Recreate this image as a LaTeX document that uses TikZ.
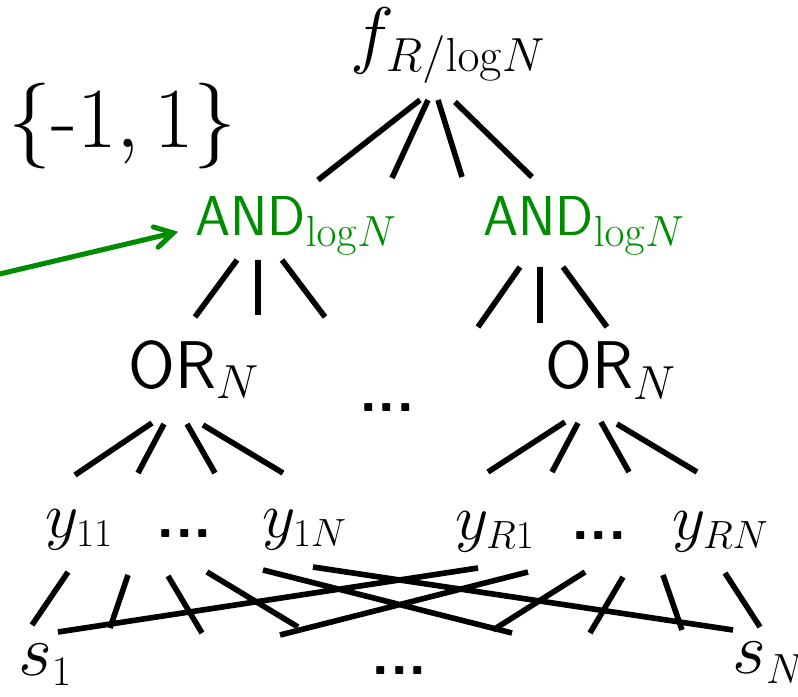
\RequirePackage{fix-cm}
\documentclass[tikz,border=0pt]{standalone}
\usepackage{xcolor}
\definecolor{andgreen}{RGB}{0,140,0}
\DeclareMathSizes{53}{53}{34}{24}
\DeclareMathSizes{40}{40}{31}{22}
\DeclareMathSizes{48}{48}{34}{24}
\DeclareMathSizes{46}{46}{28}{20}
\DeclareMathSizes{52}{52}{30}{22}
\DeclareMathSizes{61}{61}{43}{31}
\usepackage{tikz}
\usetikzlibrary{arrows.meta}

\begin{document}
\begin{tikzpicture}[
    lbl/.style={inner sep=0pt, anchor=base west},
    gate/.style={lbl, font=\fontsize{48}{56}\selectfont\sffamily},
    var/.style={lbl, font=\fontsize{46}{54}\selectfont},
    dots/.style={inner sep=0pt, anchor=base, font=\fontsize{43}{50}\selectfont\sffamily\bfseries},
    stub/.style={line width=4pt}]
  \useasboundingbox (0,0) rectangle (19.95,17.4);
  % Root and the value set
  \node[lbl, font=\fontsize{53}{60}\selectfont] (fR) at (8.75,15.9) {$f_{R/\mathrm{log}N}$};
  \node[lbl, font=\fontsize{61}{70}\selectfont] (pm) at (0.2,13.7) {$\{\mbox{-}1,1\}$};
  \draw[stub] (10.5,14.9) -- (7.95,12.9) (10.7,14.9) -- (9.8,12.95)
              (10.95,14.9) -- (11.55,12.975) (11.375,14.85) -- (13.3,12.975);
  % AND layer (green)
  \node[lbl, andgreen, font=\fontsize{40}{48}\selectfont] (andL) at (4.875,11.5) {$\textsf{AND}_{\mathrm{log}N}$};
  \node[lbl, andgreen, font=\fontsize{40}{48}\selectfont] (andR) at (12.075,11.5) {$\textsf{AND}_{\mathrm{log}N}$};
  \coordinate (src) at (-0.05,10.54);
  \draw[andgreen, line width=3.6pt, line cap=round,
        -{Straight Barb[length=4.5mm, width=5.2mm, line cap=round]}] (src) -- ([shift={(-0.42,-0.14)}]andL.west);
  \draw[stub] (5.925,10.9) -- (4.875,9.475) (6.45,10.9) -- (6.45,9.525) (7.05,10.9) -- (8.125,9.475);
  \draw[stub] (13.0,10.725) -- (11.95,9.225) (13.5,10.725) -- (13.5,9.325) (14.075,10.725) -- (15.175,9.225);
  % OR layer
  \node[gate] (orL) at (3.2,7.7) {$\textsf{OR}_N$};
  \node[gate] (orR) at (13.625,7.675) {$\textsf{OR}_N$};
  \node[dots] (dotsOR) at (9.675,7.1) {...};
  \draw[stub] (3.8,6.825) -- (1.875,5.525) (4.1,6.8) -- (3.45,5.575)
              (4.675,6.8) -- (5.375,5.575) (5.075,6.775) -- (7.075,5.575);
  \draw[stub] (14.125,6.85) -- (12.2,5.6) (14.45,6.825) -- (13.8,5.6)
              (15.025,6.85) -- (15.725,5.6) (15.425,6.8) -- (17.425,5.6);
  % y variables
  \node[var] (y11) at (1.125,3.975) {$y_{11}$};
  \node[dots] (dotsYL) at (4.6125,3.975) {...};
  \node[var] (y1N) at (6.55,3.975) {$y_{1N}$};
  \node[var] (yR1) at (11.375,3.925) {$y_{R1}$};
  \node[dots] (dotsYR) at (14.975,3.925) {...};
  \node[var] (yRN) at (16.8,3.925) {$y_{RN}$};
  % s variables
  \node[lbl, font=\fontsize{52}{60}\selectfont] (s1) at (0.45,0.525) {$s_1$};
  \node[dots] (dotsS) at (9.9875,0.55) {...};
  \node[lbl, font=\fontsize{52}{60}\selectfont] (sN) at (18.3,0.575) {$s_N$};
  % Crossing wires between y and s
  \draw[stub] (1.7,3.1) -- (0.8,1.775) (3.2,3.025) -- (2.75,1.7)
              (4.2,3.0) -- (5.05,1.575) (5.175,3.1) -- (7.45,1.725);
  \draw[stub] (6.575,3.15) -- (12.8,1.575) (7.825,3.225) -- (18.325,1.65)
              (1.45,1.6) -- (11.95,3.2) (7.0,1.525) -- (13.2,3.1);
  \draw[stub] (14.625,3.1) -- (12.325,1.65) (15.575,2.975) -- (14.75,1.575)
              (16.575,3.025) -- (17.05,1.65) (18.125,3.075) -- (19.0,1.725);
\end{tikzpicture}
\end{document}
